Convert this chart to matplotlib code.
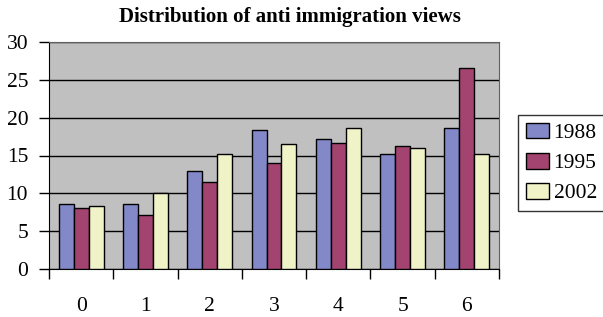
import matplotlib.pyplot as plt
import numpy as np

categories = ["0", "1", "2", "3", "4", "5", "6"]
years = ["1988", "1995", "2002"]
v1988 = [8.6, 8.6, 13.0, 18.4, 17.2, 15.2, 18.7]
v1995 = [8.0, 7.1, 11.5, 14.0, 16.7, 16.2, 26.6]
v2002 = [8.3, 10.0, 15.2, 16.5, 18.7, 16.0, 15.2]
colors = ["#8388C8", "#A34470", "#F0F2C8"]

plt.rcParams["font.family"] = ["Liberation Serif", "DejaVu Serif"]

fig = plt.figure(figsize=(6.03, 3.17), dpi=100)
ax = fig.add_axes([49 / 603, 1 - 269 / 317, 450 / 603, 227 / 317])
ax.set_facecolor("#C0C0C0")

x = np.arange(len(categories))
w = 0.233
for i, (vals, lab) in enumerate(zip([v1988, v1995, v2002], years)):
    ax.bar(x + (i - 1) * w, vals, width=w, color=colors[i], edgecolor="black",
           linewidth=1.0, label=lab, zorder=3)

ax.set_ylim(0, 30)
ax.set_xlim(-0.5, len(categories) - 0.5)
ax.set_yticks(range(0, 31, 5))
ax.yaxis.grid(True, color="black", linewidth=1.0, zorder=1)
ax.set_axisbelow(True)

# ticks sit between the categories, labels at the centres
ax.set_xticks(np.arange(-0.5, len(categories), 1.0))
ax.set_xticklabels([])
ax.set_xticks(x, minor=True)
ax.set_xticklabels(categories, minor=True)
ax.tick_params(axis="x", which="major", direction="out", length=7, width=1)
ax.tick_params(axis="x", which="minor", length=0, pad=20, labelsize=15.5)
ax.tick_params(axis="y", direction="out", length=7, width=1, pad=8, labelsize=15.5)

for side in ["top", "right"]:
    ax.spines[side].set_color("#606060")
for side in ["left", "bottom"]:
    ax.spines[side].set_color("black")

fig.text(290 / 603, 1 - 17 / 317, "Distribution of anti immigration views",
         fontsize=15, fontweight="bold", ha="center", va="center")

leg = fig.legend(loc="center left", bbox_to_anchor=(518 / 603, 1 - 163 / 317),
                 fontsize=15.5, frameon=True, fancybox=False, edgecolor="black",
                 handlelength=1.1, handleheight=0.75, handletextpad=0.2,
                 labelspacing=0.45, borderpad=0.35, borderaxespad=0)
leg.get_frame().set_linewidth(1.0)

fig.savefig("out.png", dpi=100)
